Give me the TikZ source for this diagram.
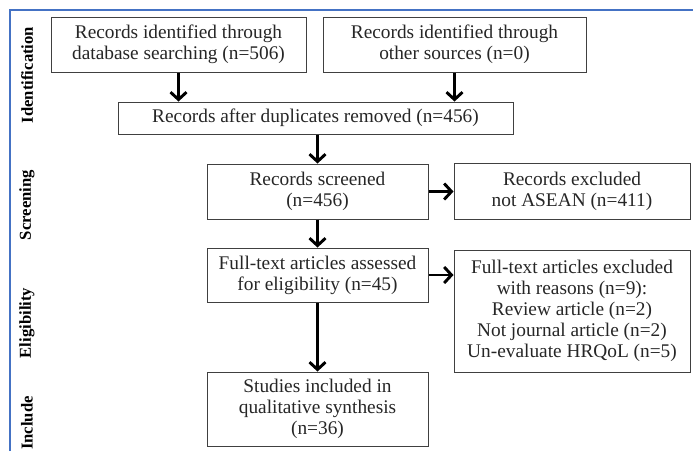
\documentclass[tikz,border=0pt]{standalone}
\usepackage{fontspec}
\setmainfont{Liberation Serif}
\usetikzlibrary{arrows.meta}

\begin{document}
\begin{tikzpicture}[x=0.75pt,y=-0.75pt,
box/.style={draw=black!75,line width=0.75pt,align=center,inner sep=0pt,
  font=\fontsize{14.5}{15.75}\selectfont,text=black!85},
flow/.style={line width=2.2pt,-{Straight Barb[length=5.5pt,width=12pt]}},
phase/.style={rotate=90,font=\fontsize{12.5}{14}\selectfont\bfseries}]
\useasboundingbox (0,0) rectangle (693,451);
%Frame
\draw[color={rgb,255:red,68;green,114;blue,196},line width=1.5pt]
(10,451) -- (10,10) -- (693,10);
%Phases
\node[phase] (identification) at (27,75) {Identification};
\node[phase] (screening) at (27,205) {Screening};
\node[phase] (eligibility) at (27,323) {Eligibility};
\node[phase] (include) at (27,423) {Include};
%Identification
\node[box,minimum width=191.25pt,minimum height=41.25pt] (database) at (178.5,44.5)
{Records identified through\\database searching (n=506)};
\node[box,minimum width=197.25pt,minimum height=41.25pt] (other) at (454.5,44.5)
{Records identified through\\other sources (n=0)};
\node[box,minimum width=296.25pt,minimum height=24pt] (duplicates) at (315.5,118)
{Records after duplicates removed (n=456)};
%Screening
\node[box,minimum width=165.75pt,minimum height=41.25pt] (screened) at (317.5,191.5)
{Records screened\\(n=456)};
\node[box,minimum width=177pt,minimum height=42pt] (excluded) at (572,191)
{Records excluded\\not ASEAN (n=411)};
%Eligibility
\node[box,minimum width=165.75pt,minimum height=40.5pt] (fulltext) at (317.5,275)
{Full-text articles assessed\\for eligibility (n=45)};
\node[box,minimum width=177pt,minimum height=91.5pt] (reasons) at (572,311)
{Full-text articles excluded\\with reasons (n=9):\\Review article (n=2)\\Not journal article (n=2)\\Un-evaluate HRQoL (n=5)};
%Include
\node[box,minimum width=165.75pt,minimum height=55.5pt] (included) at (317.5,409)
{Studies included in\\qualitative synthesis\\(n=36)};
%Arrows
\draw[flow] (database.south) -- (database.south |- duplicates.north);
\draw[flow] (other.south) -- (other.south |- duplicates.north);
\draw[flow] (screened.north |- duplicates.south) -- (screened.north);
\draw[flow] (screened.south) -- (fulltext.north);
\draw[flow] (fulltext.south) -- (included.north);
\draw[flow] (screened.east) -- (excluded.west |- screened.east);
\draw[flow] (fulltext.east) -- (reasons.west |- fulltext.east);
\end{tikzpicture}
\end{document}
